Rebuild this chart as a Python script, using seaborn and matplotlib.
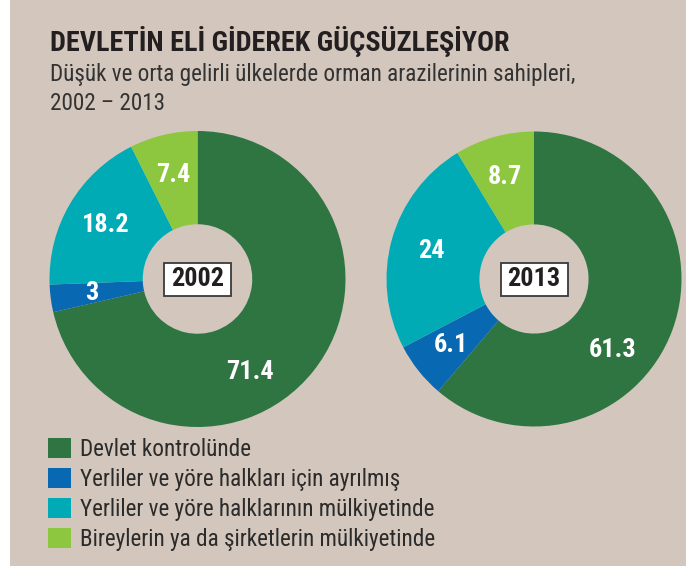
import matplotlib
matplotlib.use("Agg")
import numpy as np
import matplotlib.pyplot as plt
from matplotlib import font_manager
from matplotlib.patches import Patch, Rectangle
import seaborn as sns

# data
categories = ["Devlet kontrolünde",
              "Yerliler ve yöre halkları için ayrılmış",
              "Yerliler ve yöre halklarının mülkiyetinde",
              "Bireylerin ya da şirketlerin mülkiyetinde"]
years = ["2002", "2013"]
values_2002 = [71.4, 3, 18.2, 7.4]
values_2013 = [61.3, 6.1, 24, 8.7]
labels_2002 = ["71.4", "3", "18.2", "7.4"]
labels_2013 = ["61.3", "6.1", "24", "8.7"]
colors = ["#2e7542", "#0868b1", "#00abb6", "#8dc63f"]

title = "DEVLETİN ELİ GİDEREK GÜÇSÜZLEŞİYOR"
subtitle_1 = "Düşük ve orta gelirli ülkelerde orman arazilerinin sahipleri,"
subtitle_2 = "2002 – 2013"

BG = "#d3c7bd"
W, H = 686, 568

sns.set_theme(style="white")

# pick a narrow face if one is installed
installed = {f.name for f in font_manager.fontManager.ttflist}
narrow = [f.name for f in font_manager.fontManager.ttflist
          if f.stretch in ("condensed", "semi-condensed", "extra-condensed")
          or "Narrow" in f.name or "Condensed" in f.name]
family = None
for name in ["Liberation Sans Narrow", "DejaVu Sans Condensed", "Roboto Condensed",
             "Open Sans Condensed", "Noto Sans Condensed"]:
    if name in installed:
        family = name
        break
if family is None and narrow:
    family = narrow[0]
if family is None:
    family = "Roboto" if "Roboto" in installed else "Liberation Sans"
plt.rcParams['font.family'] = [family, 'DejaVu Sans']

palette = sns.color_palette(colors)

fig = plt.figure(figsize=(W / 100, H / 100), dpi=100)
fig.patch.set_facecolor(BG)
# white margin strips of the scanned page
fig.patches.append(Rectangle((0, 0), 10 / W, 1, transform=fig.transFigure,
                             facecolor="white", edgecolor="none"))
fig.patches.append(Rectangle((0, 0), 1, 2 / H, transform=fig.transFigure,
                             facecolor="white", edgecolor="none"))
renderer = fig.canvas.get_renderer()


def fit_size(text, width_px, weight="normal", start=16):
    t = fig.text(0, 0, text, fontsize=start, fontweight=weight)
    w = t.get_window_extent(renderer).width
    t.remove()
    return start * width_px / w


digit_size = fit_size("2002", 53, "bold", 19)


def donut(cx, cy, r, values, labels, year):
    ax = fig.add_axes([(cx - r) / W, 1 - (cy + r) / H, 2 * r / W, 2 * r / H])
    ax.set_facecolor("none")
    wedges, _ = ax.pie(values, colors=palette, startangle=90, counterclock=False,
                       radius=1, wedgeprops=dict(width=0.63, linewidth=0))
    biggest = max(range(len(values)), key=lambda i: values[i])
    for i, (w, lab) in enumerate(zip(wedges, labels)):
        ang = (w.theta1 + w.theta2) / 2
        if i == biggest:
            ang -= 22  # big slice label sits lower, clear of the year box
        rr = 0.72
        ax.text(rr * np.cos(np.deg2rad(ang)), rr * np.sin(np.deg2rad(ang)), lab,
                ha="center", va="center", color="white",
                fontsize=digit_size, fontweight="bold")
    bw, bh = 67 / r, 33 / r
    ax.add_patch(Rectangle((-bw / 2, -bh / 2), bw, bh, facecolor="white",
                           edgecolor="#3a3a3a", linewidth=1.3, zorder=3))
    ax.text(0, 0, year, ha="center", va="center", color="#231f20",
            fontsize=digit_size, fontweight="bold", zorder=4)
    ax.set_xlim(-1, 1)
    ax.set_ylim(-1, 1)
    ax.set_aspect("equal")
    ax.axis("off")


donut(197.5, 279, 148, values_2002, labels_2002, years[0])
donut(534, 279, 147.5, values_2013, labels_2013, years[1])

title_size = fit_size(title, 460, "bold", 17)
sub_size = fit_size(subtitle_1, 530, "normal", 16)
fig.text(50 / W, 1 - 51 / H, title, ha="left", va="baseline",
         fontsize=title_size, fontweight="bold", color="#231f20")
fig.text(50 / W, 1 - 81 / H, subtitle_1, ha="left", va="baseline",
         fontsize=sub_size, color="#333333")
fig.text(50 / W, 1 - 110 / H, subtitle_2, ha="left", va="baseline",
         fontsize=sub_size, color="#333333")

leg_size = fit_size(categories[0], 172, "normal", 16)
handles = [Patch(facecolor=c, edgecolor="none") for c in palette]
fig.legend(handles, categories, loc="upper left",
           bbox_to_anchor=(48 / W, 1 - 438 / H), frameon=False,
           fontsize=leg_size, handlelength=23 / (leg_size / 0.72),
           handleheight=21 / (leg_size / 0.72),
           handletextpad=9 / (leg_size / 0.72), labelspacing=0.3, borderpad=0,
           borderaxespad=0, labelcolor="#2b2b2b")

fig.savefig("out.png", dpi=100, facecolor=fig.get_facecolor())
